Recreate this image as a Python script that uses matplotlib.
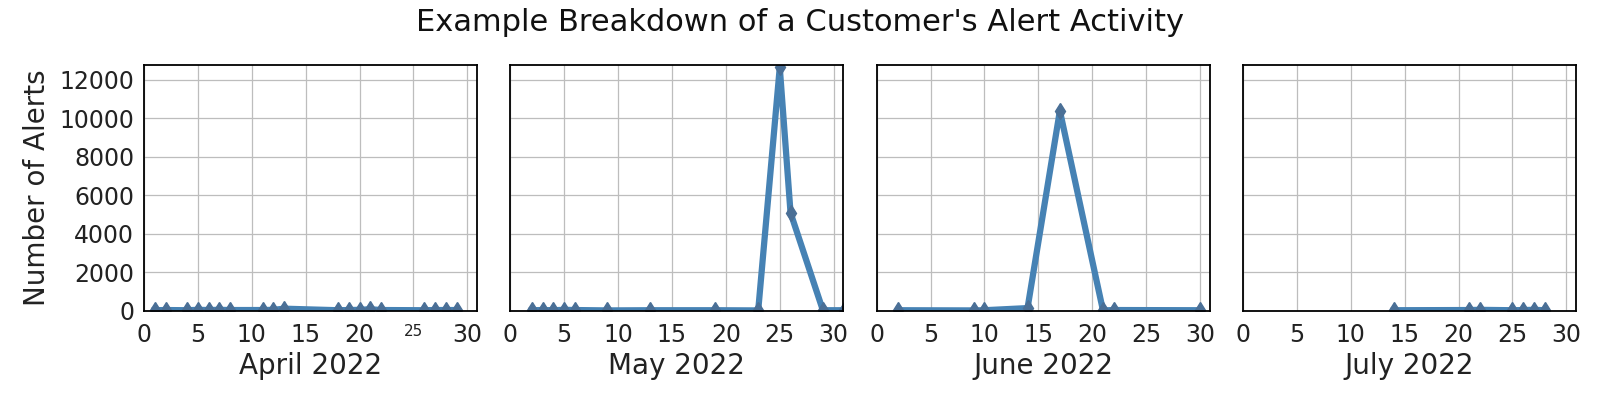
import matplotlib
matplotlib.use("Agg")
import matplotlib.pyplot as plt

months = ["April 2022", "May 2022", "June 2022", "July 2022"]

april_days = [1, 2, 4, 5, 6, 7, 8, 11, 12, 13, 18, 19, 20, 21, 22, 26, 27, 28, 29]
april_vals = [40, 50, 40, 60, 50, 60, 50, 50, 60, 120, 40, 50, 60, 90, 50, 40, 50, 50, 50]

may_days = [2, 3, 4, 5, 6, 9, 13, 19, 23, 25, 26, 29, 31]
may_vals = [40, 50, 40, 60, 50, 30, 40, 40, 30, 12650, 5100, 40, 40]

june_days = [2, 9, 10, 14, 17, 21, 22, 30]
june_vals = [40, 30, 40, 150, 10400, 30, 50, 40]

july_days = [14, 21, 22, 25, 26, 27, 28]
july_vals = [40, 50, 60, 40, 50, 60, 40]

x_ticks = [0, 5, 10, 15, 20, 25, 30]
y_ticks = [0, 2000, 4000, 6000, 8000, 10000, 12000]

series = [(april_days, april_vals), (may_days, may_vals),
          (june_days, june_vals), (july_days, july_vals)]

line_color = "#4682b4"
marker_color = "#4a6f96"

fig, axes = plt.subplots(1, 4, figsize=(16, 4), dpi=100, sharey=True)
fig.subplots_adjust(left=0.09, right=0.985, top=0.8375, bottom=0.2225, wspace=0.1)

ymax = max(max(v) for _, v in series) * 1.01

for i, (ax, (d, v), m) in enumerate(zip(axes, series, months)):
    ax.plot(d, v, color=line_color, linewidth=4.5, marker="d", markersize=8,
            markeredgecolor=marker_color, markerfacecolor=marker_color)
    ax.set_xlim(0, 30.9)
    ax.set_ylim(0, ymax)
    ax.set_xticks(x_ticks)
    ax.set_yticks(y_ticks)
    ax.grid(True, color="#bdbdbd", linewidth=0.9)
    ax.set_axisbelow(True)
    for s in ax.spines.values():
        s.set_color("black")
        s.set_linewidth(1.3)
    ax.tick_params(axis="both", length=0, labelsize=17, colors="#222222")
    ax.tick_params(axis="x", pad=9)
    ax.tick_params(axis="y", pad=7)
    ax.set_xlabel(m, fontsize=20, color="#222222", labelpad=3)
    if i == 0:
        ax.set_ylabel("Number of Alerts", fontsize=20, color="#222222", labelpad=6)
        for lbl in ax.get_xticklabels():
            if lbl.get_text() == "25":
                lbl.set_fontsize(11)
    else:
        ax.tick_params(axis="y", labelleft=False)

fig.suptitle("Example Breakdown of a Customer's Alert Activity", fontsize=22,
             y=0.98, color="#111111")

fig.savefig("out.png", dpi=100, facecolor="white")
